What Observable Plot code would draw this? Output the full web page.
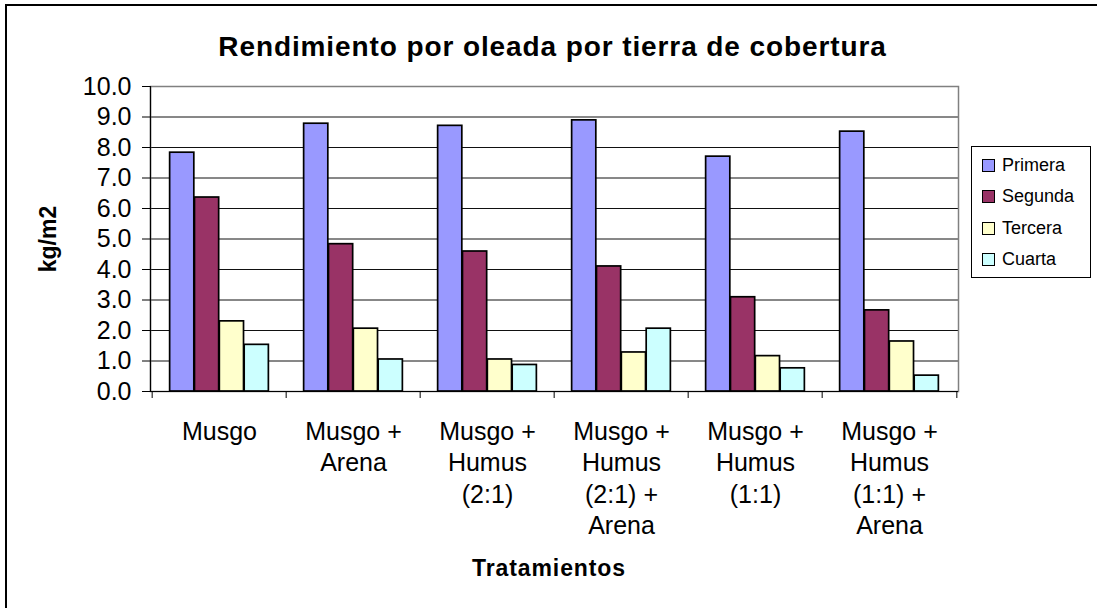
<!DOCTYPE html>
<html><head><meta charset="utf-8">
<script src="https://cdn.jsdelivr.net/npm/d3@7"></script>
<script src="https://cdn.jsdelivr.net/npm/@observablehq/plot@0.6"></script>
<style>
body{margin:0;background:#fff;font-family:Arial,"Liberation Sans",sans-serif;color:#000;}
#page{position:relative;width:1097px;height:608px;overflow:hidden;background:#fff;}
#border{position:absolute;left:5px;top:4px;width:1300px;height:800px;border:2.5px solid #000;box-sizing:border-box;}
#title{position:absolute;left:4px;width:1097px;top:33px;text-align:center;font-weight:bold;font-size:28px;line-height:28px;letter-spacing:0.9px;white-space:nowrap;}
#chart{position:absolute;left:0;top:0;}
#ylabel{position:absolute;left:47.5px;top:239px;transform:translate(-50%,-50%) rotate(-90deg);font-weight:bold;font-size:23px;white-space:nowrap;}
#xlabel{position:absolute;left:0;width:1098px;top:557px;text-align:center;font-weight:bold;font-size:23px;line-height:23px;letter-spacing:0.9px;white-space:nowrap;}
#legend{position:absolute;left:971px;top:146px;width:120px;height:132px;border:1px solid #000;box-sizing:border-box;}
.item{position:absolute;left:10px;height:20px;display:flex;align-items:center;font-size:18px;white-space:nowrap;}
.sw{width:13px;height:13px;border:1px solid #000;box-sizing:border-box;margin-right:7px;}
</style></head><body>
<div id="page">
  <div id="border"></div>
  <div id="title">Rendimiento por oleada por tierra de cobertura</div>
  <div id="chart"></div>
  <div id="ylabel">kg/m2</div>
  <div id="xlabel">Tratamientos</div>
  <div id="legend"></div>
</div>
<script>
// ---- data ----
const categories = [
  "Musgo",
  "Musgo +\nArena",
  "Musgo +\nHumus\n(2:1)",
  "Musgo +\nHumus\n(2:1) +\nArena",
  "Musgo +\nHumus\n(1:1)",
  "Musgo +\nHumus\n(1:1) +\nArena"
];
const series = ["Primera", "Segunda", "Tercera", "Cuarta"];
const primera = [7.83, 8.78, 8.71, 8.89, 7.70, 8.52];
const segunda = [6.36, 4.83, 4.59, 4.10, 3.09, 2.66];
const tercera = [2.30, 2.06, 1.05, 1.28, 1.16, 1.64];
const cuarta  = [1.53, 1.05, 0.87, 2.06, 0.76, 0.52];
const colors = ["#9999FF", "#993366", "#FFFFCC", "#CCFFFF"];
const yTicks = [0, 1, 2, 3, 4, 5, 6, 7, 8, 9, 10];

// ---- layout ----
const W = 970, H = 600;
const mL = 150, mR = 12, mT = 86, mB = 209;
const bw = (W - mL - mR) / categories.length;
const barW = 24.85;
const groupOff = (bw - barW * series.length) / 2;

const values = [primera, segunda, tercera, cuarta];
const rows = [];
series.forEach((s, i) => categories.forEach((c, j) => rows.push({cat: c, series: s, si: i, value: values[i][j]})));

const barMarks = series.map((s, i) => Plot.barY(rows.filter(d => d.series === s), {
  x: "cat", y: "value",
  fill: colors[i], stroke: "#000", strokeWidth: 1.7,
  insetLeft: groupOff + barW * i,
  insetRight: bw - groupOff - barW * (i + 1)
}));

const chart = Plot.plot({
  width: W, height: H,
  marginLeft: mL, marginRight: mR, marginTop: mT, marginBottom: mB,
  style: {fontFamily: "Arial, 'Liberation Sans', sans-serif", color: "#000", background: "transparent", overflow: "visible"},
  x: {domain: categories, padding: 0},
  y: {domain: [0, 10]},
  marks: [
    Plot.ruleY(yTicks.filter(t => t > 0 && t < 10), {stroke: "#111", strokeWidth: 1}),
    Plot.frame({stroke: "#808080", strokeWidth: 1.5}),
    ...barMarks,
    Plot.ruleY([0], {stroke: "#000", strokeWidth: 1.2}),
    Plot.frame({anchor: "left", stroke: "#000", strokeWidth: 1.2}),
    Plot.axisY({ticks: yTicks, tickFormat: d3.format(".1f"), tickSize: 8, tickPadding: 11, fontSize: 25, label: null, stroke: "#000"}),
    Plot.axisX({ticks: categories, tickSize: 7, tickFormat: () => "", dx: -bw / 2, label: null}),
    Plot.axisX({ticks: categories.slice(-1), tickSize: 7, tickFormat: () => "", dx: bw / 2, label: null}),
    Plot.axisX({tickSize: 0, tickPadding: 26, fontSize: 25, lineHeight: 1.26, label: null})
  ]
});
document.getElementById("chart").appendChild(chart);

// legend
const leg = document.getElementById("legend");
series.forEach((s, i) => {
  const it = document.createElement("div");
  it.className = "item";
  it.style.top = (8 + i * 31.5) + "px";
  const sw = document.createElement("div");
  sw.className = "sw";
  sw.style.background = colors[i];
  it.appendChild(sw);
  it.appendChild(document.createTextNode(s));
  leg.appendChild(it);
});
</script>
</body></html>
